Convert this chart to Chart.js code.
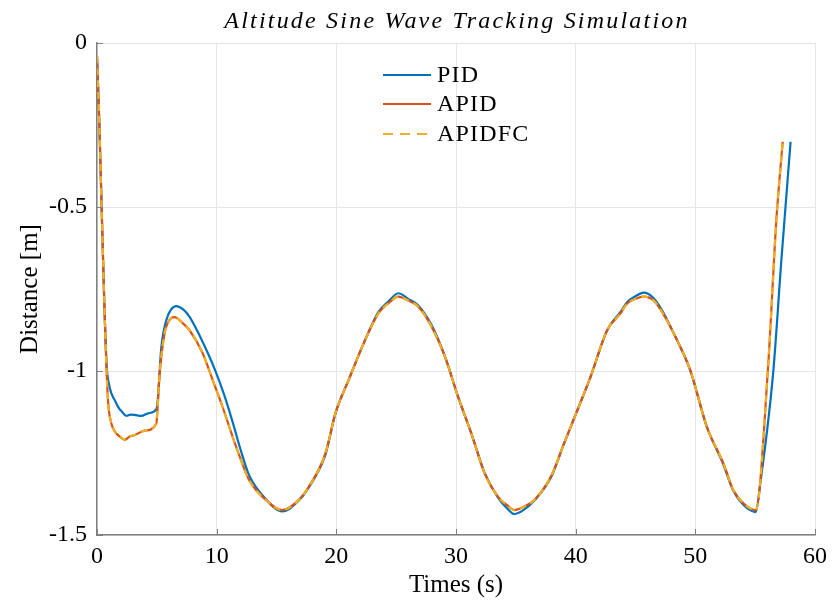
<!DOCTYPE html>
<html>
<head>
<meta charset="utf-8">
<script src="https://cdn.jsdelivr.net/npm/chart.js@4.4.1/dist/chart.umd.min.js"></script>
<style>
  html, body { margin: 0; padding: 0; background: #ffffff; }
  #wrap { width: 834px; height: 601px; }
</style>
</head>
<body>
<div id="wrap"><canvas id="c" width="834" height="601"></canvas></div>
<script>
// ---- data ----
const chartTitle = "Altitude Sine Wave Tracking Simulation";
const xTitle = "Times (s)";
const yTitle = "Distance [m]";
const seriesNames = ["PID", "APID", "APIDFC"];

const pidTime = [0, 0.2, 0.4, 0.6, 0.8, 1.0, 1.22, 1.5, 1.77, 2.1, 2.46, 2.8, 3.15, 3.7, 4.26, 4.95, 5.05, 5.37, 5.79, 6.2, 6.62, 7.2, 7.72, 8.55, 9.38, 9.95, 10.6, 11.33, 12.0, 12.71, 14.1, 15.48, 16.87, 17.7, 19.09, 19.92, 21.03, 22.41, 23.52, 24.3, 25.19, 26.0, 26.85, 27.96, 29.07, 30.17, 31.28, 32.39, 33.5, 34.3, 34.88, 35.6, 36.55, 37.93, 39.04, 40.15, 41.25, 42.64, 43.75, 44.3, 45.0, 45.68, 46.52, 47.3, 48.19, 49.57, 50.96, 52.34, 53.17, 54.01, 55.05, 55.39, 56.5, 57.19, 57.96];
const pidDistance = [-0.04, -0.25, -0.52, -0.78, -0.98, -1.04, -1.07, -1.09, -1.11, -1.125, -1.137, -1.133, -1.134, -1.137, -1.129, -1.117, -1.10, -0.93, -0.845, -0.812, -0.802, -0.812, -0.834, -0.89, -0.955, -1.005, -1.07, -1.155, -1.24, -1.318, -1.39, -1.428, -1.395, -1.355, -1.255, -1.13, -1.027, -0.905, -0.82, -0.79, -0.763, -0.78, -0.8, -0.86, -0.955, -1.078, -1.19, -1.31, -1.385, -1.42, -1.436, -1.425, -1.395, -1.325, -1.22, -1.119, -1.017, -0.875, -0.82, -0.79, -0.772, -0.761, -0.778, -0.82, -0.885, -0.997, -1.17, -1.285, -1.365, -1.408, -1.43, -1.353, -1.007, -0.662, -0.301];

const apidTime = [0, 0.2, 0.4, 0.6, 0.8, 0.94, 1.2, 1.5, 1.9, 2.33, 2.7, 3.15, 3.99, 4.96, 5.05, 5.24, 5.65, 6.05, 6.48, 7.1, 7.72, 8.83, 9.66, 10.49, 11.33, 12.0, 12.71, 14.1, 15.48, 16.87, 17.7, 19.09, 19.92, 21.03, 22.41, 23.52, 24.3, 25.19, 26.0, 26.85, 27.96, 29.07, 30.17, 31.28, 32.39, 33.5, 34.3, 34.88, 35.6, 36.55, 37.93, 39.04, 40.15, 41.25, 42.64, 43.75, 44.3, 45.0, 45.68, 46.52, 47.3, 48.19, 49.57, 50.96, 52.34, 53.17, 54.01, 55.05, 56.08, 56.77, 57.3];
const apidDistance = [-0.04, -0.25, -0.52, -0.78, -1.0, -1.1, -1.16, -1.185, -1.2, -1.21, -1.2, -1.195, -1.182, -1.16, -1.12, -1.007, -0.885, -0.845, -0.836, -0.852, -0.875, -0.946, -1.027, -1.109, -1.2, -1.268, -1.332, -1.393, -1.424, -1.393, -1.353, -1.251, -1.129, -1.027, -0.905, -0.824, -0.795, -0.773, -0.785, -0.804, -0.865, -0.956, -1.078, -1.19, -1.312, -1.383, -1.41, -1.424, -1.415, -1.393, -1.322, -1.22, -1.119, -1.017, -0.875, -0.824, -0.794, -0.78, -0.773, -0.785, -0.825, -0.885, -0.997, -1.17, -1.281, -1.363, -1.403, -1.424, -0.987, -0.54, -0.301];

const apidfcTime = [0, 0.2, 0.4, 0.6, 0.8, 0.94, 1.2, 1.5, 1.9, 2.33, 2.7, 3.15, 3.99, 4.96, 5.05, 5.24, 5.65, 6.05, 6.48, 7.1, 7.72, 8.83, 9.66, 10.49, 11.33, 12.0, 12.71, 14.1, 15.48, 16.87, 17.7, 19.09, 19.92, 21.03, 22.41, 23.52, 24.3, 25.19, 26.0, 26.85, 27.96, 29.07, 30.17, 31.28, 32.39, 33.5, 34.3, 34.88, 35.6, 36.55, 37.93, 39.04, 40.15, 41.25, 42.64, 43.75, 44.3, 45.0, 45.68, 46.52, 47.3, 48.19, 49.57, 50.96, 52.34, 53.17, 54.01, 55.05, 56.08, 56.77, 57.3];
const apidfcDistance = [-0.04, -0.25, -0.52, -0.78, -1.0, -1.1, -1.16, -1.185, -1.2, -1.21, -1.2, -1.195, -1.182, -1.16, -1.12, -1.007, -0.885, -0.845, -0.836, -0.852, -0.875, -0.946, -1.027, -1.109, -1.2, -1.268, -1.332, -1.393, -1.424, -1.393, -1.353, -1.251, -1.129, -1.027, -0.905, -0.824, -0.795, -0.773, -0.785, -0.804, -0.865, -0.956, -1.078, -1.19, -1.312, -1.383, -1.41, -1.424, -1.415, -1.393, -1.322, -1.22, -1.119, -1.017, -0.875, -0.824, -0.794, -0.78, -0.773, -0.785, -0.825, -0.885, -0.997, -1.17, -1.281, -1.363, -1.403, -1.424, -0.987, -0.54, -0.301];

const xTicks = [0, 10, 20, 30, 40, 50, 60];
const yTicks = [0, -0.5, -1, -1.5];

// ---- build ----
const toPts = (xs, ys) => xs.map((x, i) => ({ x: x, y: ys[i] }));
const SERIF = "'Liberation Serif', 'DejaVu Serif', serif";

const decorPlugin = {
  id: 'insideDecor',
  afterDraw(chart) {
    const ctx = chart.ctx;
    const a = chart.chartArea;
    ctx.save();
    // title
    ctx.fillStyle = '#000';
    ctx.font = "italic 24px " + SERIF;
    ctx.letterSpacing = '2.2px';
    ctx.textAlign = 'center';
    ctx.textBaseline = 'middle';
    ctx.fillText(chartTitle, (a.left + a.right) / 2 + 1, 22);
    ctx.letterSpacing = '0px';
    // inward tick marks
    const xs = chart.scales.x, ys = chart.scales.y;
    ctx.strokeStyle = '#808080';
    ctx.lineWidth = 1;
    ctx.beginPath();
    xTicks.forEach(v => { const px = Math.round(xs.getPixelForValue(v)) + 0.5; ctx.moveTo(px, a.bottom); ctx.lineTo(px, a.bottom - 6); });
    yTicks.forEach(v => { const py = Math.round(ys.getPixelForValue(v)) + 0.5; ctx.moveTo(a.left, py); ctx.lineTo(a.left + 6, py); });
    ctx.stroke();
    // legend
    const lx0 = 383, lx1 = 431, tx = 437;
    const rows = [75, 104, 134];
    chart.data.datasets.forEach((ds, i) => {
      ctx.strokeStyle = ds.borderColor;
      ctx.lineWidth = 2.2;
      ctx.setLineDash(ds.borderDash ? [10, 7] : []);
      ctx.beginPath();
      ctx.moveTo(lx0, rows[i]);
      ctx.lineTo(lx1, rows[i]);
      ctx.stroke();
      ctx.setLineDash([]);
      ctx.fillStyle = '#000';
      ctx.font = "24px " + SERIF;
      ctx.letterSpacing = '1.2px';
      ctx.textAlign = 'left';
      ctx.textBaseline = 'middle';
      ctx.fillText(ds.label, tx, rows[i] + 1);
      ctx.letterSpacing = '0px';
    });
    ctx.restore();
  }
};

new Chart(document.getElementById('c'), {
  type: 'line',
  data: {
    datasets: [
      { label: seriesNames[0], data: toPts(pidTime, pidDistance), borderColor: '#0072BD', borderWidth: 2.2, pointRadius: 0, cubicInterpolationMode: 'monotone', fill: false, order: 3 },
      { label: seriesNames[1], data: toPts(apidTime, apidDistance), borderColor: '#D95319', borderWidth: 2.2, pointRadius: 0, cubicInterpolationMode: 'monotone', fill: false, order: 2 },
      { label: seriesNames[2], data: toPts(apidfcTime, apidfcDistance), borderColor: '#EDB120', borderWidth: 2.2, borderDash: [7, 5], pointRadius: 0, cubicInterpolationMode: 'monotone', fill: false, order: 1 }
    ]
  },
  options: {
    responsive: false,
    animation: false,
    layout: { padding: { top: 43, right: 15, left: 0, bottom: 0 } },
    plugins: { legend: { display: false }, title: { display: false }, tooltip: { enabled: false } },
    scales: {
      x: {
        type: 'linear', min: 0, max: 60,
        afterBuildTicks: s => { s.ticks = xTicks.map(v => ({ value: v })); },
        afterFit: s => { s.height = 66; },
        grid: { color: '#e6e6e6', drawTicks: false, lineWidth: 1 },
        border: { color: '#808080', width: 1.5 },
        ticks: { color: '#000', font: { family: SERIF, size: 24 }, padding: 7, maxRotation: 0 },
        title: { display: true, text: xTitle, color: '#000', font: { family: SERIF, size: 25 }, padding: { top: 0, bottom: 1 } }
      },
      y: {
        type: 'linear', min: -1.5, max: 0,
        afterBuildTicks: s => { s.ticks = yTicks.map(v => ({ value: v })); },
        afterFit: s => { s.width = 97; },
        grid: { color: '#e6e6e6', drawTicks: false, lineWidth: 1 },
        border: { color: '#808080', width: 1.5 },
        ticks: { color: '#000', font: { family: SERIF, size: 24 }, padding: 10, callback: v => String(v) },
        title: { display: true, text: yTitle, color: '#000', font: { family: SERIF, size: 25 }, padding: { top: 15, bottom: 0 } }
      }
    }
  },
  plugins: [decorPlugin]
});
</script>
</body>
</html>
